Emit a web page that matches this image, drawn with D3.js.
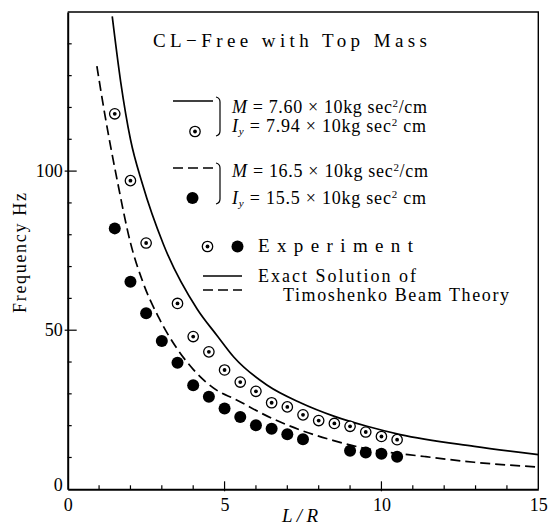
<!DOCTYPE html>
<html>
<head>
<meta charset="utf-8">
<script src="https://cdn.jsdelivr.net/npm/d3@7"></script>
<style>
  html, body { margin: 0; padding: 0; background: #fff; }
  svg { display: block; }
  text { font-family: "Liberation Serif", "DejaVu Serif", serif; fill: #000; }
</style>
</head>
<body>
<svg id="chart" width="548" height="531"></svg>
<script>
// ---- data ----
const xTickLabels = [0, 5, 10, 15];
const yTickLabels = [0, 50, 100];
const xMinorTicks = [1, 2, 3, 4, 6, 7, 8, 9, 11, 12, 13, 14];
const yMinorTicks = [10, 20, 30, 40, 60, 70, 80, 90, 110, 120, 130, 140];

// experiment, M = 7.60 (open circle with dot)
const openX = [1.5, 2, 2.5, 3.5, 4, 4.5, 5, 5.5, 6, 6.5, 7, 7.5, 8, 8.5, 9, 9.5, 10, 10.5];
const openY = [118, 97, 77.4, 58.4, 48, 43.2, 37.5, 33.7, 30.8, 27.2, 25.9, 23.4, 21.6, 20.7, 19.8, 18.0, 16.6, 15.6];

// experiment, M = 16.5 (filled circle)
const filledX = [1.5, 2, 2.5, 3, 3.5, 4, 4.5, 5, 5.5, 6, 6.5, 7, 7.5, 9, 9.5, 10, 10.5];
const filledY = [82, 65.2, 55.3, 46.6, 39.8, 32.7, 29.1, 25.4, 22.7, 20.1, 19.0, 17.3, 15.7, 12.1, 11.6, 11.2, 10.2];

// exact solution, M = 7.60 (solid)
const solidX = [1.42, 1.69, 2.0, 2.38, 3.05, 4.13, 4.77, 5.3, 6.36, 7.42, 8.48, 9.54, 10.6, 12.96, 15];
const solidY = [148.6, 128, 110, 96, 77, 56.6, 48.2, 41.5, 32.7, 27.2, 23.0, 19.8, 17.2, 13.5, 10.9];

// exact solution, M = 16.5 (dashed)
const dashedX = [0.93, 1.18, 1.58, 2.0, 2.4, 2.9, 3.5, 4.0, 4.77, 5.3, 6.36, 7.42, 8.48, 9.54, 11.37, 12.96, 15];
const dashedY = [133, 118, 97, 77.5, 65, 54, 44, 37.7, 31, 28.5, 23, 18.6, 15.3, 12.7, 10.3, 8.5, 7.0];

// ---- drawing ----
const svg = d3.select("#chart");
const x = d3.scaleLinear().domain([0, 15]).range([67.7, 538.3]);
const y = d3.scaleLinear().domain([0, 150]).range([489.3, 12]);

const plot = svg.append("g");

svg.append("defs").append("clipPath").attr("id", "clip")
  .append("rect").attr("x", x(0)).attr("y", y(150))
  .attr("width", x(15) - x(0)).attr("height", y(0) - y(150));

// frame: top and right borders
plot.append("path")
  .attr("d", `M${x(0)},${y(150)} H${x(15)} V${y(0)}`)
  .attr("fill", "none").attr("stroke", "#000").attr("stroke-width", 1.4);

// axes
const xAxis = d3.axisBottom(x).tickValues(xTickLabels).tickSize(0).tickPadding(9)
  .tickFormat(d3.format("d"));
const gx = svg.append("g").attr("transform", `translate(0,${y(0)})`).call(xAxis);
gx.select(".domain").attr("stroke-width", 2);
gx.selectAll("text").attr("font-size", 18).attr("font-family", "Liberation Serif, serif");
gx.selectAll(".tick").filter(d => d === 15).select("text").attr("text-anchor", "end").attr("dx", 9);

const yAxis = d3.axisLeft(y).tickValues(yTickLabels).tickSize(0).tickPadding(5)
  .tickFormat(d3.format("d"));
const gy = svg.append("g").attr("transform", `translate(${x(0)},0)`).call(yAxis);
gy.select(".domain").attr("stroke-width", 2);
gy.selectAll("text").attr("font-size", 18).attr("font-family", "Liberation Serif, serif");
gy.selectAll(".tick").filter(d => d === 0).select("text").attr("dy", "0.05em");

// ticks (inward)
svg.append("g").selectAll("line").data(xMinorTicks).join("line")
  .attr("x1", d => x(d)).attr("x2", d => x(d))
  .attr("y1", y(0)).attr("y2", y(0) - 4)
  .attr("stroke", "#000").attr("stroke-width", 1.2);
svg.append("g").selectAll("line").data(xTickLabels.slice(1, 3)).join("line")
  .attr("x1", d => x(d)).attr("x2", d => x(d))
  .attr("y1", y(0) + 2).attr("y2", y(0) - 8)
  .attr("stroke", "#000").attr("stroke-width", 1.2);
svg.append("g").selectAll("line").data(yMinorTicks).join("line")
  .attr("x1", x(0)).attr("x2", x(0) + 4)
  .attr("y1", d => y(d)).attr("y2", d => y(d))
  .attr("stroke", "#000").attr("stroke-width", 1.2);
svg.append("g").selectAll("line").data(yTickLabels.slice(1)).join("line")
  .attr("x1", x(0) - 3).attr("x2", x(0) + 9)
  .attr("y1", d => y(d)).attr("y2", d => y(d))
  .attr("stroke", "#000").attr("stroke-width", 1.2);

// axis titles
svg.append("text").attr("x", 282).attr("y", 522)
  .attr("font-size", 19).attr("font-style", "italic")
  .attr("textLength", 36).attr("lengthAdjust", "spacing")
  .text("L/R");
svg.append("text")
  .attr("transform", "translate(26,253) rotate(-90)")
  .attr("text-anchor", "middle").attr("font-size", 18)
  .attr("textLength", 120).attr("lengthAdjust", "spacing")
  .text("Frequency Hz");

// curves
const line = d3.line().x(d => x(d[0])).y(d => y(d[1])).curve(d3.curveMonotoneX);
const curves = plot.append("g").attr("clip-path", "url(#clip)");
curves.append("path").datum(d3.zip(solidX, solidY))
  .attr("d", line).attr("fill", "none").attr("stroke", "#000").attr("stroke-width", 1.7);
curves.append("path").datum(d3.zip(dashedX, dashedY))
  .attr("d", line).attr("fill", "none").attr("stroke", "#000").attr("stroke-width", 1.7)
  .attr("stroke-dasharray", "10,5");

// markers
function openMarker(g, cx, cy) {
  g.append("circle").attr("cx", cx).attr("cy", cy).attr("r", 5.2)
    .attr("fill", "#fff").attr("stroke", "#000").attr("stroke-width", 1.3);
  g.append("circle").attr("cx", cx).attr("cy", cy).attr("r", 1.9).attr("fill", "#000");
}
function filledMarker(g, cx, cy) {
  g.append("circle").attr("cx", cx).attr("cy", cy).attr("r", 6).attr("fill", "#000");
}
const mk = plot.append("g");
d3.zip(openX, openY).forEach(d => openMarker(mk, x(d[0]), y(d[1])));
d3.zip(filledX, filledY).forEach(d => filledMarker(mk, x(d[0]), y(d[1])));

// ---- legend / annotations ----
const lg = svg.append("g");
lg.append("text").attr("x", 153).attr("y", 47).attr("font-size", 19)
  .attr("textLength", 274).attr("lengthAdjust", "spacing")
  .text("CL\u2212Free with Top Mass");

function legLine(x1, x2, yy, dashed) {
  const l = lg.append("line").attr("x1", x1).attr("x2", x2).attr("y1", yy).attr("y2", yy)
    .attr("stroke", "#000").attr("stroke-width", 1.5);
  if (dashed) l.attr("stroke-dasharray", "10,5");
}
function bracket(x0, y1, y2) {
  lg.append("path")
    .attr("d", `M${x0},${y1} Q${x0 + 4},${y1 + 1} ${x0 + 4},${y1 + 5} V${y2 - 5} Q${x0 + 4},${y2 - 1} ${x0},${y2}`)
    .attr("fill", "none").attr("stroke", "#000").attr("stroke-width", 1.2);
}
function mText(xx, yy, val, len) {
  const t = lg.append("text").attr("x", xx).attr("y", yy).attr("font-size", 18)
    .attr("textLength", len).attr("lengthAdjust", "spacing");
  t.append("tspan").attr("font-style", "italic").text("M");
  t.append("tspan").text(" = " + val + " \u00d7 10kg sec");
  t.append("tspan").attr("font-size", 11).attr("dy", -6).text("2");
  t.append("tspan").attr("dy", 6).text("/cm");
}
function iText(xx, yy, val, len) {
  const t = lg.append("text").attr("x", xx).attr("y", yy).attr("font-size", 18)
    .attr("textLength", len).attr("lengthAdjust", "spacing");
  t.append("tspan").attr("font-style", "italic").text("I");
  t.append("tspan").attr("font-style", "italic").attr("font-size", 11).attr("dy", 3).text("y");
  t.append("tspan").attr("dy", -3).text(" = " + val + " \u00d7 10kg sec");
  t.append("tspan").attr("font-size", 11).attr("dy", -6).text("2");
  t.append("tspan").attr("dy", 6).text(" cm");
}

legLine(173, 213, 101, false);
openMarker(lg, 195, 131.5);
bracket(216, 97, 136);
mText(232, 112.5, "7.60", 195);
iText(232, 132, "7.94", 194);

legLine(173, 213, 168, true);
filledMarker(lg, 192.5, 198);
bracket(216, 163, 204);
mText(232, 177, "16.5", 196);
iText(232, 204, "15.5", 194);

openMarker(lg, 207.5, 246.5);
filledMarker(lg, 237.5, 246.5);
lg.append("text").attr("x", 258).attr("y", 252).attr("font-size", 19)
  .attr("textLength", 155).attr("lengthAdjust", "spacing").text("Experiment");

legLine(203, 242, 276, false);
legLine(203, 242, 290, true);
lg.append("text").attr("x", 258).attr("y", 282).attr("font-size", 18)
  .attr("textLength", 158).attr("lengthAdjust", "spacing").text("Exact Solution of");
lg.append("text").attr("x", 283).attr("y", 301).attr("font-size", 18)
  .attr("textLength", 226).attr("lengthAdjust", "spacing").text("Timoshenko Beam Theory");
</script>
</body>
</html>
